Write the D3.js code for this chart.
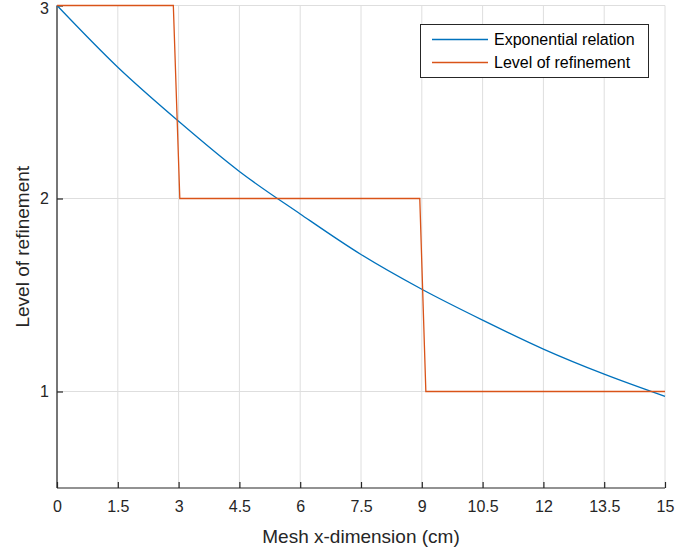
<!DOCTYPE html>
<html>
<head>
<meta charset="utf-8">
<script src="https://cdn.jsdelivr.net/npm/d3@7"></script>
<style>
  body { margin: 0; background: #fff; }
  svg { display: block; font-family: "Liberation Sans", Arial, sans-serif; }
</style>
</head>
<body>
<svg width="675" height="554"></svg>
<script>
// values
var expX = [0, 1.5, 3, 4.5, 6, 7.5, 9, 10.5, 12, 13.5, 15];
var expY = [3.0, 2.68, 2.40, 2.14, 1.92, 1.71, 1.53, 1.37, 1.22, 1.09, 0.975];
var stepX = [0, 2.87, 3.03, 8.95, 9.1, 15];
var stepY = [3, 3, 2, 2, 1, 1];
var xTicks = [0, 1.5, 3, 4.5, 6, 7.5, 9, 10.5, 12, 13.5, 15];
var yTicks = [1, 2, 3];
var seriesNames = ["Exponential relation", "Level of refinement"];
var colors = ["#0072BD", "#D95319"];

var svg = d3.select("svg");
var plotL = 57, plotR = 665, plotT = 5.5, plotB = 488;

var x = d3.scaleLinear().domain([0, 15]).range([plotL, plotR]);
var y = d3.scaleLinear().domain([0.5, 3]).range([plotB, plotT]);

// grid
var grid = svg.append("g").attr("class", "grid");
grid.selectAll("line.gx").data(xTicks).enter().append("line")
  .attr("x1", function(d) { return x(d); }).attr("x2", function(d) { return x(d); })
  .attr("y1", plotT).attr("y2", plotB)
  .attr("stroke", "#dedede").attr("stroke-width", 1);
grid.selectAll("line.gy").data(yTicks).enter().append("line")
  .attr("y1", function(d) { return y(d); }).attr("y2", function(d) { return y(d); })
  .attr("x1", plotL).attr("x2", plotR)
  .attr("stroke", "#dedede").attr("stroke-width", 1);

// axes
var xAxis = d3.axisBottom(x).tickValues(xTicks).tickSize(-6).tickPadding(13)
  .tickFormat(function(d) { return d; });
var yAxis = d3.axisLeft(y).tickValues(yTicks).tickSize(-6).tickPadding(8)
  .tickFormat(function(d) { return d; });

var gx = svg.append("g").attr("transform", "translate(0," + plotB + ")").call(xAxis);
var gy = svg.append("g").attr("transform", "translate(" + plotL + ",0)").call(yAxis);
[gx, gy].forEach(function(g) {
  g.select(".domain").attr("stroke", "#262626").attr("stroke-width", 1.2);
  g.selectAll(".tick line").attr("stroke", "#262626").attr("stroke-width", 1.2);
  g.selectAll(".tick text").attr("fill", "#262626").attr("font-size", 16)
    .attr("font-family", "Liberation Sans, Arial, sans-serif");
});
gx.select(".domain").attr("d", "M" + plotL + ",0H" + plotR);
gy.select(".domain").attr("d", "M0," + plotB + "V" + plotT);
// top label sits a bit lower so it stays inside the figure
gy.selectAll(".tick text").filter(function(d) { return d === 3; }).attr("y", 2.5);

// lines
var line = d3.line().x(function(d) { return x(d[0]); }).y(function(d) { return y(d[1]); });
svg.append("path")
  .datum(expX.map(function(v, i) { return [v, expY[i]]; }))
  .attr("d", line.curve(d3.curveMonotoneX))
  .attr("fill", "none").attr("stroke", colors[0]).attr("stroke-width", 1.3);
svg.append("path")
  .datum(stepX.map(function(v, i) { return [v, stepY[i]]; }))
  .attr("d", line.curve(d3.curveLinear))
  .attr("fill", "none").attr("stroke", colors[1]).attr("stroke-width", 1.3);

// labels
svg.append("text").attr("x", (plotL + plotR) / 2).attr("y", 543)
  .attr("text-anchor", "middle").attr("font-size", 19).attr("fill", "#262626")
  .text("Mesh x-dimension (cm)");
svg.append("text").attr("transform", "translate(29," + (plotT + plotB) / 2 + ") rotate(-90)")
  .attr("text-anchor", "middle").attr("font-size", 19).attr("fill", "#262626")
  .text("Level of refinement");

// legend
var lg = svg.append("g");
lg.append("rect").attr("x", 420.5).attr("y", 24.5).attr("width", 228).attr("height", 53)
  .attr("fill", "#fff").attr("stroke", "#262626").attr("stroke-width", 1);
seriesNames.forEach(function(name, i) {
  var ly = 39.5 + i * 23;
  lg.append("line").attr("x1", 432).attr("x2", 488).attr("y1", ly).attr("y2", ly)
    .attr("stroke", colors[i]).attr("stroke-width", 1.3);
  lg.append("text").attr("x", 494).attr("y", ly + 5.5).attr("font-size", 16)
    .attr("fill", "#000").text(name);
});
</script>
</body>
</html>
